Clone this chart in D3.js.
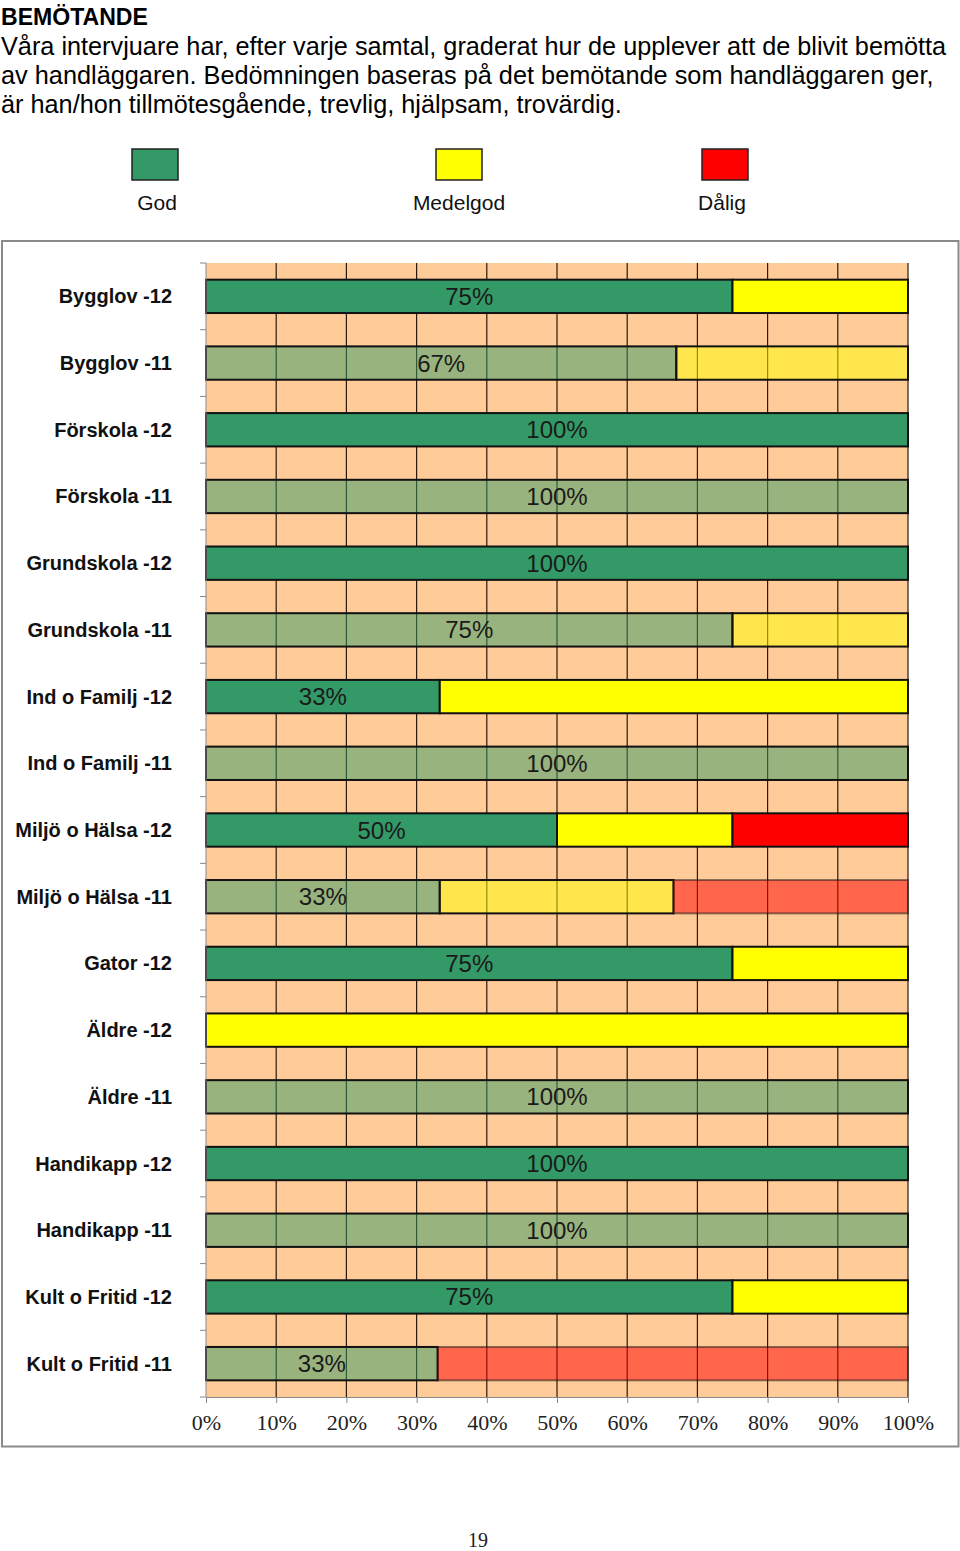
<!DOCTYPE html>
<html><head><meta charset="utf-8">
<script src="https://cdn.jsdelivr.net/npm/d3@7/dist/d3.min.js"></script>
<style>body{margin:0;background:#fff}svg{display:block}</style>
</head><body>
<svg id="c" width="960" height="1551"></svg>
<script>
const categories = ["Bygglov -12","Bygglov -11","Förskola -12","Förskola -11","Grundskola -12","Grundskola -11","Ind o Familj -12","Ind o Familj -11","Miljö o Hälsa -12","Miljö o Hälsa -11","Gator -12","Äldre -12","Äldre -11","Handikapp -12","Handikapp -11","Kult o Fritid -12","Kult o Fritid -11"];
const god      = [75, 67, 100, 100, 100, 75, 33.3, 100, 50, 33.3, 75, 0, 100, 100, 100, 75, 33];
const medelgod = [25, 33, 0, 0, 0, 25, 66.7, 0, 25, 33.3, 25, 100, 0, 0, 0, 25, 0];
const dalig    = [0, 0, 0, 0, 0, 0, 0, 0, 25, 33.4, 0, 0, 0, 0, 0, 0, 67];
const seriesNames = ["God","Medelgod","Dålig"];
const seriesColors = ["#339966","#FFFF00","#FF0000"];
const xTicks = [0,10,20,30,40,50,60,70,80,90,100];
const headerTitle = "BEMÖTANDE";
const headerLines = ["Våra intervjuare har, efter varje samtal, graderat hur de upplever att de blivit bemötta","av handläggaren. Bedömningen baseras på det bemötande som handläggaren ger,","är han/hon tillmötesgående, trevlig, hjälpsam, trovärdig."];
const pageNumber = "19";

const svg = d3.select("#c");
const sans = "'Liberation Sans', Arial, sans-serif";

// Header: fit each line to its width by adjusting font size
function fitText(t, yy, target, size, bold){
  const el = svg.append("text").attr("x",1).attr("y",yy).attr("font-family",sans)
    .attr("font-weight",bold?"bold":"normal").attr("font-size",size).text(t);
  const w = el.node().getComputedTextLength();
  if (w > target) el.attr("font-size", size*target/w);
  return el;
}
fitText(headerTitle, 25, 147, 24, true);
const lineW = [946, 933, 621];
headerLines.forEach((t,i)=> fitText(t, 55+i*29, lineW[i], 26, false));

// Legend
const legCenters = {"God":155,"Medelgod":459,"Dålig":725};
seriesNames.forEach((s,i)=>{
  const cx = legCenters[s];
  svg.append("rect").attr("x",cx-23).attr("y",149).attr("width",46).attr("height",31)
    .attr("fill",seriesColors[i]).attr("stroke","#222").attr("stroke-width",1.5);
  svg.append("text").attr("x",cx+ (i==0?2:(i==2?-3:0))).attr("y",210).attr("text-anchor","middle")
    .attr("font-family",sans).attr("font-size",21).attr("fill","#111").text(s);
});

// Frame
svg.append("rect").attr("x",2).attr("y",241).attr("width",956.5).attr("height",1205.5)
  .attr("fill","#fff").attr("stroke","#8a8a8a").attr("stroke-width",2);

// Scales
const x = d3.scaleLinear().domain([0,100]).range([206,908]);
const y = d3.scaleBand().domain(categories).range([263,1397]).paddingInner(0.5).paddingOuter(0.25);
const step = y.step();

// plot background
svg.append("rect").attr("x",x(0)).attr("y",263).attr("width",x(100)-x(0)).attr("height",1397-263).attr("fill","#FFCC99");

// vertical gridlines
svg.append("g").selectAll("line").data(xTicks.slice(1)).join("line")
  .attr("x1",d=>x(d)).attr("x2",d=>x(d)).attr("y1",263).attr("y2",1397)
  .attr("stroke","#2a1a0a").attr("stroke-width",1.2);

// bars
const rows = categories.map((c,i)=>({c, vals:[god[i],medelgod[i],dalig[i]], old:c.endsWith("-11")}));
const gBars = svg.append("g");
rows.forEach(r=>{
  let acc = 0;
  r.vals.forEach((v,k)=>{
    if(v<=0){return;}
    gBars.append("rect").attr("x",x(acc)).attr("y",y(r.c)).attr("width",x(acc+v)-x(acc)).attr("height",y.bandwidth())
      .attr("fill",seriesColors[k]).attr("fill-opacity",r.old?0.5:1)
      .attr("stroke","#111").attr("stroke-width",2).attr("stroke-opacity",(r.old&&k==2)?0.5:1);
    acc += v;
  });
  if(r.vals[0]>0){
    gBars.append("text").attr("x",(x(0)+x(r.vals[0]))/2).attr("y",y(r.c)+y.bandwidth()/2+8.5)
      .attr("text-anchor","middle").attr("font-family",sans).attr("font-size",24).attr("fill","#1a1a1a")
      .text(Math.round(r.vals[0])+"%");
  }
});

// y axis
const gy = svg.append("g");
gy.append("line").attr("x1",x(0)).attr("x2",x(0)).attr("y1",263).attr("y2",1397).attr("stroke","#888").attr("stroke-width",1);
d3.range(categories.length+1).forEach(i=>{
  const yy = 263 + i*step;
  gy.append("line").attr("x1",x(0)-6).attr("x2",x(0)).attr("y1",yy).attr("y2",yy).attr("stroke","#888");
});
gy.selectAll("text").data(categories).join("text")
  .attr("x",172).attr("y",c=>y(c)+y.bandwidth()/2+7)
  .attr("text-anchor","end").attr("font-family",sans).attr("font-weight","bold").attr("font-size",20).attr("fill","#111")
  .text(c=>c);

// x axis
const gx = svg.append("g").attr("transform","translate(0,1397)");
gx.call(d3.axisBottom(x).tickValues(xTicks).tickFormat(d=>d+"%").tickSize(6).tickSizeOuter(0));
gx.select(".domain").attr("stroke","#888");
gx.selectAll(".tick line").attr("stroke","#888");
gx.selectAll(".tick text").attr("font-family","'Liberation Serif', 'Times New Roman', serif").attr("font-size",22)
  .attr("fill","#222").attr("dy",0).attr("y",33);

// page number
svg.append("text").attr("x",478).attr("y",1547).attr("text-anchor","middle")
  .attr("font-family","'Liberation Serif', serif").attr("font-size",20).attr("fill","#222").text(pageNumber);
</script>
</body></html>
